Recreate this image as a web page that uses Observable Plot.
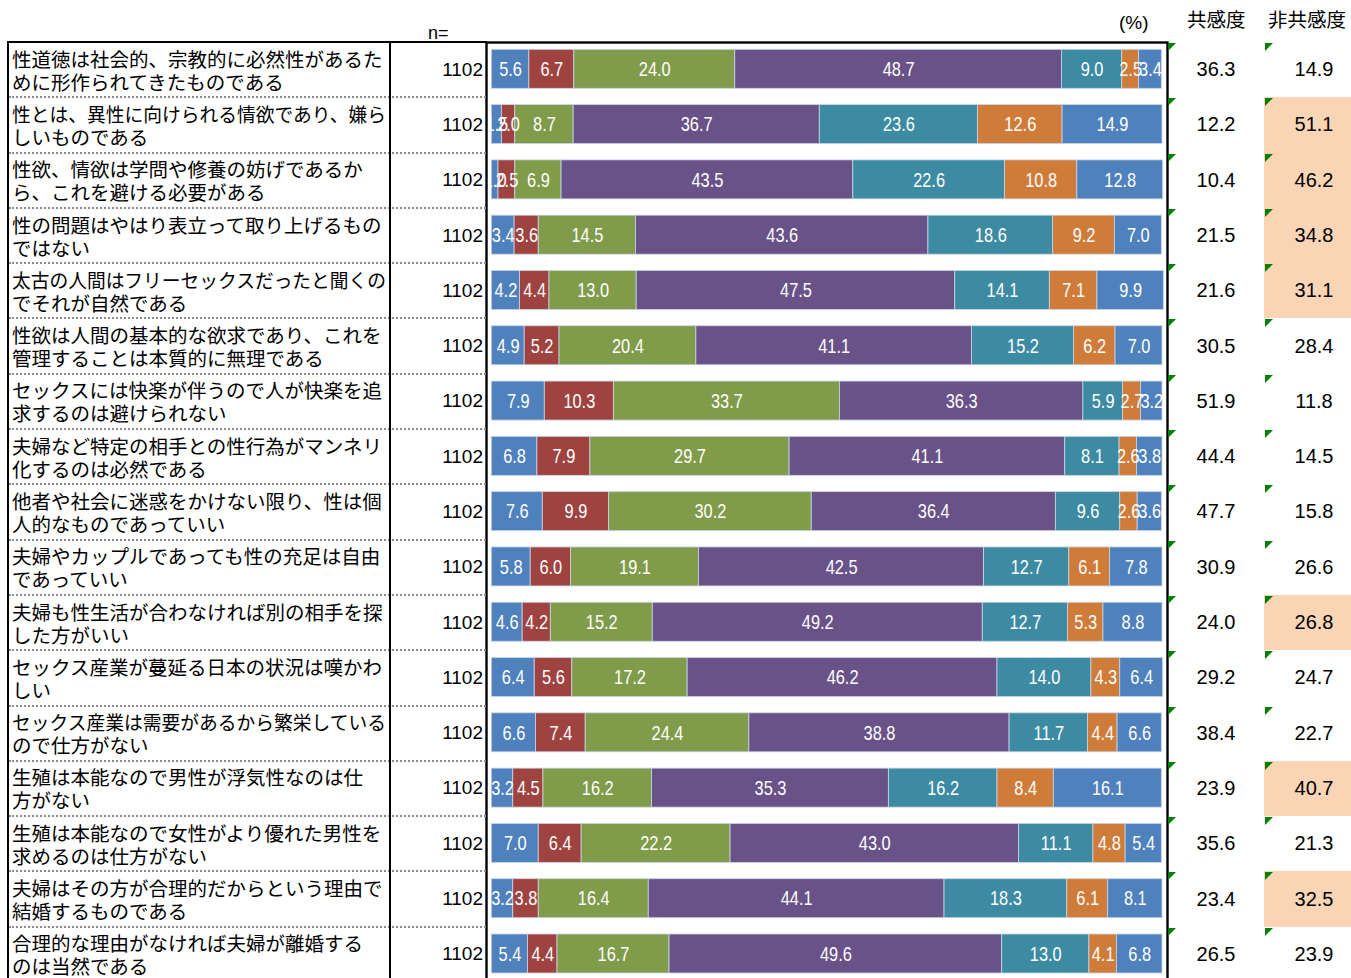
<!DOCTYPE html>
<html lang="ja">
<head>
<meta charset="utf-8">
<script src="https://cdn.jsdelivr.net/npm/d3@7"></script>
<script src="https://cdn.jsdelivr.net/npm/@observablehq/plot@0.6"></script>
<style>
html, body { margin: 0; padding: 0; background: #fff; overflow: hidden; }
#page { position: relative; width: 1351px; height: 978px; overflow: hidden; background: #fff; color: #000;
  font-family: "Liberation Sans", Arial, sans-serif; }
.abs { position: absolute; box-sizing: border-box; }
.hdr { position: absolute; white-space: nowrap; line-height: 1; }
.jp { font-family: "Noto Sans CJK JP", "Noto Sans CJK SC", sans-serif; }
.lab { display: flex; flex-direction: column; justify-content: center; padding-left: 3px;
  font-size: 19.5px; line-height: 23px; overflow: visible; }
.lab span { display: block; white-space: nowrap; transform-origin: 0 50%; width: max-content; }
.num { display: flex; align-items: center; white-space: nowrap; }
.tri { position: absolute; width: 0; height: 0; border-top: 8px solid #008000; border-right: 8px solid transparent; }
#bars { position: absolute; left: 470px; top: 40px; line-height: 0; }
#bars svg { display: block; overflow: visible; }
</style>
</head>
<body>
<div id="page">
  <div class="hdr" style="left:428px; top:24px; font-size:18px;">n=</div>
  <div class="hdr" style="left:1119px; top:13px; font-size:19px;">(%)</div>
  <div class="hdr jp" style="left:1187px; top:9px; font-size:19.5px;">共感度</div>
  <div class="hdr jp" style="left:1268px; top:9px; font-size:19.5px;">非共感度</div>
  <div id="bars"></div>
</div>
<script>
// ---- data ----
const labels = [
  "性道徳は社会的、宗教的に必然性があるた\nめに形作られてきたものである",
  "性とは、異性に向けられる情欲であり、嫌ら\nしいものである",
  "性欲、情欲は学問や修養の妨げであるか\nら、これを避ける必要がある",
  "性の問題はやはり表立って取り上げるもの\nではない",
  "太古の人間はフリーセックスだったと聞くの\nでそれが自然である",
  "性欲は人間の基本的な欲求であり、これを\n管理することは本質的に無理である",
  "セックスには快楽が伴うので人が快楽を追\n求するのは避けられない",
  "夫婦など特定の相手との性行為がマンネリ\n化するのは必然である",
  "他者や社会に迷惑をかけない限り、性は個\n人的なものであっていい",
  "夫婦やカップルであっても性の充足は自由\nであっていい",
  "夫婦も性生活が合わなければ別の相手を探\nした方がいい",
  "セックス産業が蔓延る日本の状況は嘆かわ\nしい",
  "セックス産業は需要があるから繁栄している\nので仕方がない",
  "生殖は本能なので男性が浮気性なのは仕\n方がない",
  "生殖は本能なので女性がより優れた男性を\n求めるのは仕方がない",
  "夫婦はその方が合理的だからという理由で\n結婚するものである",
  "合理的な理由がなければ夫婦が離婚する\nのは当然である"
];
const sampleSize = [1102,1102,1102,1102,1102,1102,1102,1102,1102,1102,1102,1102,1102,1102,1102,1102,1102];

const seg1 = [5.6, 1.5, 1.0, 3.4, 4.2, 4.9, 7.9, 6.8, 7.6, 5.8, 4.6, 6.4, 6.6, 3.2, 7.0, 3.2, 5.4];
const seg2 = [6.7, 2.0, 2.5, 3.6, 4.4, 5.2, 10.3, 7.9, 9.9, 6.0, 4.2, 5.6, 7.4, 4.5, 6.4, 3.8, 4.4];
const seg3 = [24.0, 8.7, 6.9, 14.5, 13.0, 20.4, 33.7, 29.7, 30.2, 19.1, 15.2, 17.2, 24.4, 16.2, 22.2, 16.4, 16.7];
const seg4 = [48.7, 36.7, 43.5, 43.6, 47.5, 41.1, 36.3, 41.1, 36.4, 42.5, 49.2, 46.2, 38.8, 35.3, 43.0, 44.1, 49.6];
const seg5 = [9.0, 23.6, 22.6, 18.6, 14.1, 15.2, 5.9, 8.1, 9.6, 12.7, 12.7, 14.0, 11.7, 16.2, 11.1, 18.3, 13.0];
const seg6 = [2.5, 12.6, 10.8, 9.2, 7.1, 6.2, 2.7, 2.6, 2.6, 6.1, 5.3, 4.3, 4.4, 8.4, 4.8, 6.1, 4.1];
const seg7 = [3.4, 14.9, 12.8, 7.0, 9.9, 7.0, 3.2, 3.8, 3.6, 7.8, 8.8, 6.4, 6.6, 16.1, 5.4, 8.1, 6.8];

const empathy    = [36.3, 12.2, 10.4, 21.5, 21.6, 30.5, 51.9, 44.4, 47.7, 30.9, 24.0, 29.2, 38.4, 23.9, 35.6, 23.4, 26.5];
const nonEmpathy = [14.9, 51.1, 46.2, 34.8, 31.1, 28.4, 11.8, 14.5, 15.8, 26.6, 26.8, 24.7, 22.7, 40.7, 21.3, 32.5, 23.9];

const segNames = ["seg1", "seg2", "seg3", "seg4", "seg5", "seg6", "seg7"];
const segColors = ["#4f81bd", "#9f4340", "#809b4a", "#695288", "#3d8ba3", "#cf7c3a", "#4f81bd"];

// ---- build table for Plot ----
const segs = [seg1, seg2, seg3, seg4, seg5, seg6, seg7];
const rowKeys = labels.map((_, i) => "r" + i);
const table = [];
rowKeys.forEach((r, i) => segs.forEach((arr, k) => table.push({row: r, seg: segNames[k], value: arr[i]})));

const chart = Plot.plot({
  width: 700,
  height: 944,
  marginTop: 2, marginBottom: 2, marginLeft: 16, marginRight: 3,
  x: {domain: [0, 100], insetLeft: 5.3, insetRight: 5, axis: null},
  y: {type: "band", domain: rowKeys, padding: 0, round: false, axis: null},
  color: {domain: segNames, range: segColors},
  style: {background: "transparent"},
  marks: [
    Plot.barX(table, {x: "value", y: "row", fill: "seg", stroke: "#c9d5e8", strokeWidth: 0.8, insetTop: 7.3, insetBottom: 9}),
    Plot.text(table, Plot.stackX({x: "value", y: "row", text: d => d.value.toFixed(1),
      fill: "white", fontSize: 20, fontFamily: "'Liberation Sans', Arial, sans-serif", dy: -0.5})),
    Plot.frame({stroke: "#000", strokeWidth: 2.4})
  ]
});
document.getElementById("bars").appendChild(chart);

// condense the bar labels horizontally (narrow face look), keeping their anchor point
chart.querySelectorAll('g[aria-label="text"] text').forEach(t => {
  const tr = t.getAttribute("transform") || "";
  const xa = t.getAttribute("x");
  let pre = "";
  if (xa != null && /^-?[\d.]+$/.test(xa)) { pre = ` translate(${xa},0)`; t.removeAttribute("x"); }
  t.setAttribute("transform", `${tr}${pre} scale(0.82,1)`.trim());
});

// ---- table around the chart, aligned to the chart's own y scale ----
const page = document.getElementById("page");
const ys = chart.scale("y");
const svgTop = 40;
const rowH = ys.bandwidth;
const firstTop = svgTop + ys.apply(rowKeys[0]);
const lastBottom = svgTop + ys.apply(rowKeys[rowKeys.length - 1]) + rowH;

function div(cls, style, html) {
  const d = document.createElement("div");
  d.className = cls;
  d.setAttribute("style", style);
  if (html != null) d.innerHTML = html;
  page.appendChild(d);
  return d;
}

rowKeys.forEach((r, i) => {
  const top = svgTop + ys.apply(r);
  const lab = div("abs lab jp", `left:9px; top:${top}px; width:380px; height:${rowH}px;`);
  labels[i].split("\n").forEach(line => {
    const s = document.createElement("span");
    s.textContent = line;
    lab.appendChild(s);
  });
  div("abs num", `left:391px; top:${top}px; width:92px; height:${rowH}px; justify-content:flex-end; font-size:19px;`, String(sampleSize[i]));
  if (i > 0) div("abs", `left:9px; top:${top - 1}px; width:477px; height:0; border-top:2px dotted #8c8c8c;`);
  if (nonEmpathy[i] > empathy[i]) div("abs", `left:1264px; top:${top}px; width:100px; height:${rowH}px; background:#fad5b5;`);
  div("abs num", `left:1168px; top:${top}px; width:96px; height:${rowH}px; justify-content:center; font-size:20px;`, empathy[i].toFixed(1));
  div("abs num", `left:1264px; top:${top}px; width:100px; height:${rowH}px; justify-content:center; font-size:20px;`, nonEmpathy[i].toFixed(1));
  div("tri", `left:1168px; top:${top + 1}px;`);
  div("tri", `left:1265px; top:${top + 1}px;`);
});

div("abs", `left:7px; top:${firstTop - 1}px; width:480px; height:2px; background:#000;`);
div("abs", `left:7px; top:${firstTop - 1}px; width:2px; height:${lastBottom - firstTop + 2}px; background:#000;`);
div("abs", `left:389px; top:${firstTop - 1}px; width:2px; height:${lastBottom - firstTop + 2}px; background:#000;`);

document.querySelectorAll(".lab span").forEach(s => {
  const w = s.getBoundingClientRect().width;
  const maxW = 374;
  if (w > maxW) s.style.transform = `scaleX(${maxW / w})`;
});
</script>
</body>
</html>
